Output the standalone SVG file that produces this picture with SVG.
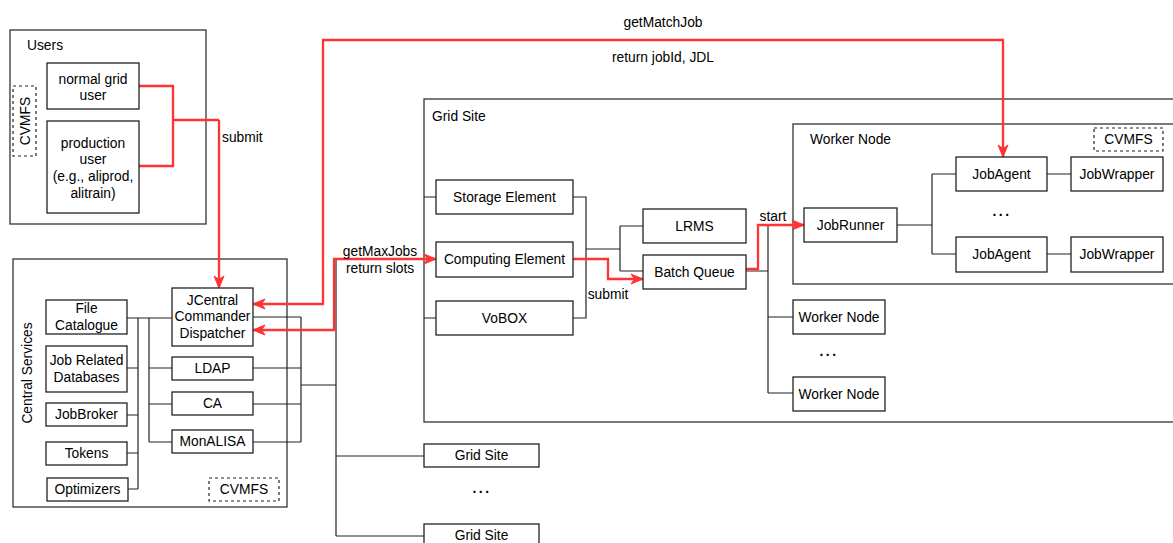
<svg xmlns="http://www.w3.org/2000/svg" width="1173" height="543" viewBox="0 0 1173 543">
<style>
text{font-family:"Liberation Sans",Arial,sans-serif;font-size:13.8px;fill:#000;}
.c{text-anchor:middle;dominant-baseline:central;}
.l{text-anchor:start;dominant-baseline:central;}
.box{fill:#fff;stroke:#222;stroke-width:1.3;}
.cont{fill:#fff;stroke:#333;stroke-width:1.3;}
.dash{fill:#fff;stroke:#222;stroke-width:1.2;stroke-dasharray:3 3;}
.ln{fill:none;stroke:#222;stroke-width:1.2;}
.red{fill:none;stroke:#ff3333;stroke-width:2.3;}
.dots{font-weight:bold;letter-spacing:2.5px;}
</style>
<defs>
<marker id="ar" markerUnits="userSpaceOnUse" markerWidth="12" markerHeight="10" refX="0" refY="0" orient="auto-start-reverse" overflow="visible">
<path d="M-12,-5 L0,0 L-12,5 L-8.5,0 z" fill="#ff3333" stroke="#ff3333" stroke-width="1"/>
</marker>
</defs>

<g id="containers">
<g id="users"><rect class="cont" x="10" y="30" width="196" height="194"/><text class="l" x="27" y="45">Users</text></g>
<g id="central-services"><rect class="cont" x="13" y="259" width="274" height="248"/><text class="c" transform="translate(27,373) rotate(-90)">Central Services</text></g>
<g id="grid-site-main"><rect class="cont" x="424" y="99" width="760" height="323"/><text class="l" x="432" y="116">Grid Site</text></g>
<g id="worker-node-main"><rect class="cont" x="793" y="124" width="390" height="160"/><text class="l" x="810" y="139">Worker Node</text></g>
</g>

<g id="connectors">
<path class="ln" d="M127,318 H172 M138,318 V489 M127,368 H138 M127,415 H138 M127,453 H138 M128,489 H138"/>
<path class="ln" d="M149,318 V442 M149,368 H172 M149,404 H172 M149,442 H172"/>
<path class="ln" d="M253,317 H301 M301,317 V442 M253,368 H301 M253,404 H301 M253,442 H301 M301,385 H336"/>
<path class="ln" d="M336,259 V536 M336,259 H424 M336,456 H424 M336,536 H424"/>
<path class="ln" d="M424,197 H436 M424,318 H436"/>
<path class="ln" d="M573,197 H586 V318 H573 M586,249 H620 M620,226 V271 M620,226 H643 M620,271 H643"/>
<path class="ln" d="M746,271 H768 M768,225 V393 M768,225 H793 M768,317 H793 M768,393 H793"/>
<path class="ln" d="M897,225 H932 M932,174 V254 M932,174 H956 M932,254 H956 M1047,174 H1071 M1047,254 H1071"/>
<path class="red" d="M139,86 H173 V166 H139 M173,120 H219"/>
<path class="red" d="M219,120 V288" marker-end="url(#ar)"/>
<path class="red" d="M253,304 H323 V40 H1003 V157" marker-start="url(#ar)" marker-end="url(#ar)"/>
<path class="red" d="M253,330 H334 V259 H436" marker-start="url(#ar)" marker-end="url(#ar)"/>
<path class="red" d="M573,259 H608 V279 H643" marker-end="url(#ar)"/>
<path class="red" d="M746,269 H758 V225 H804" marker-end="url(#ar)"/>
<text class="l" x="222" y="137">submit</text>
<text class="c" x="663" y="22">getMatchJob</text>
<text class="c" x="663" y="57">return jobId, JDL</text>
<text class="c" x="380" y="251">getMaxJobs</text>
<text class="c" x="380" y="268">return slots</text>
<text class="c" x="608" y="294">submit</text>
<text class="c" x="773" y="216">start</text>
</g>

<g id="users-cvmfs"><rect class="dash" x="13" y="86" width="23" height="70"/><text class="c" transform="translate(25,121) rotate(-90)">CVMFS</text></g>
<g id="normal-grid-user"><rect class="box" x="47" y="63" width="92" height="46"/><text class="c" x="93" y="79">normal grid</text><text class="c" x="93" y="95">user</text></g>
<g id="production-user"><rect class="box" x="47" y="121" width="92" height="92"/><text class="c" x="93" y="143">production</text><text class="c" x="93" y="159">user</text><text class="c" x="93" y="176">(e.g., aliprod,</text><text class="c" x="93" y="193">alitrain)</text></g>

<g id="file-catalogue"><rect class="box" x="46" y="300" width="81" height="34"/><text class="c" x="86.5" y="308.5">File</text><text class="c" x="86.5" y="325">Catalogue</text></g>
<g id="job-related-databases"><rect class="box" x="46" y="346" width="81" height="46"/><text class="c" x="86.5" y="360">Job Related</text><text class="c" x="86.5" y="377">Databases</text></g>
<g id="jobbroker"><rect class="box" x="46" y="403" width="81" height="23"/><text class="c" x="86.5" y="414.5">JobBroker</text></g>
<g id="tokens"><rect class="box" x="46" y="442" width="81" height="23"/><text class="c" x="86.5" y="453.5">Tokens</text></g>
<g id="optimizers"><rect class="box" x="47" y="478" width="81" height="23"/><text class="c" x="87.5" y="489.5">Optimizers</text></g>
<g id="jcentral"><rect class="box" x="172" y="288" width="81" height="58"/><text class="c" x="212.5" y="300">JCentral</text><text class="c" x="212.5" y="316.5">Commander</text><text class="c" x="212.5" y="333">Dispatcher</text></g>
<g id="ldap"><rect class="box" x="172" y="357" width="81" height="23"/><text class="c" x="212.5" y="368.5">LDAP</text></g>
<g id="ca"><rect class="box" x="172" y="392" width="81" height="23"/><text class="c" x="212.5" y="403.5">CA</text></g>
<g id="monalisa"><rect class="box" x="172" y="430" width="81" height="23"/><text class="c" x="212.5" y="441.5">MonALISA</text></g>
<g id="cs-cvmfs"><rect class="dash" x="209" y="478" width="70" height="23"/><text class="c" x="244" y="489.5">CVMFS</text></g>

<g id="storage-element"><rect class="box" x="436" y="180" width="137" height="34"/><text class="c" x="504.5" y="197">Storage Element</text></g>
<g id="computing-element"><rect class="box" x="436" y="242" width="137" height="35"/><text class="c" x="504.5" y="259.5">Computing Element</text></g>
<g id="vobox"><rect class="box" x="436" y="301" width="137" height="34"/><text class="c" x="504.5" y="318">VoBOX</text></g>
<g id="lrms"><rect class="box" x="643" y="209" width="103" height="34"/><text class="c" x="694.5" y="226">LRMS</text></g>
<g id="batch-queue"><rect class="box" x="643" y="255" width="103" height="34"/><text class="c" x="694.5" y="272">Batch Queue</text></g>

<g id="wn-cvmfs"><rect class="dash" x="1094" y="128" width="69" height="23"/><text class="c" x="1128.5" y="139.5">CVMFS</text></g>
<g id="jobrunner"><rect class="box" x="804" y="208" width="93" height="34"/><text class="c" x="850.5" y="225">JobRunner</text></g>
<g id="jobagent-1"><rect class="box" x="956" y="157" width="91" height="34"/><text class="c" x="1001.5" y="174">JobAgent</text></g>
<g id="jobwrapper-1"><rect class="box" x="1071" y="157" width="92" height="34"/><text class="c" x="1117" y="174">JobWrapper</text></g>
<g id="jobagent-2"><rect class="box" x="956" y="237" width="91" height="35"/><text class="c" x="1001.5" y="254.5">JobAgent</text></g>
<g id="jobwrapper-2"><rect class="box" x="1071" y="237" width="92" height="35"/><text class="c" x="1117" y="254.5">JobWrapper</text></g>
<text class="c dots" x="1002" y="211">...</text>

<g id="worker-node-2"><rect class="box" x="793" y="300" width="92" height="34"/><text class="c" x="839" y="317">Worker Node</text></g>
<g id="worker-node-3"><rect class="box" x="793" y="377" width="92" height="34"/><text class="c" x="839" y="394">Worker Node</text></g>
<text class="c dots" x="829" y="351">...</text>

<g id="grid-site-2"><rect class="box" x="424" y="444" width="115" height="23"/><text class="c" x="481.5" y="455.5">Grid Site</text></g>
<g id="grid-site-3"><rect class="box" x="424" y="524" width="115" height="30"/><text class="c" x="481.5" y="535.5">Grid Site</text></g>
<text class="c dots" x="482" y="488">...</text>
</svg>
